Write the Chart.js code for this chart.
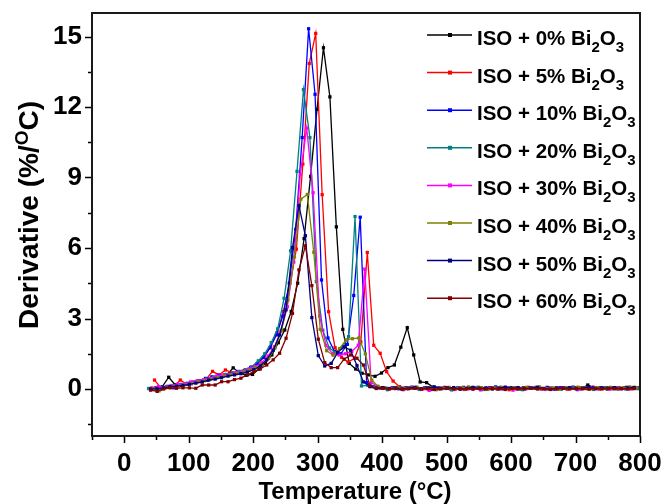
<!DOCTYPE html>
<html lang="en">
<head>
<meta charset="UTF-8">
<title>DTG - ISO + Bi2O3</title>
<script src="https://cdn.jsdelivr.net/npm/chart.js"></script>
<style>
  body { margin: 0; background: #fff; }
  #grafico { display: block; }
</style>
</head>
<body>
<canvas id="grafico" width="666" height="504"></canvas>
<script>
    // percentuais de Bi2O3 de cada amostra
    const percentuais = ['0', '5', '10', '20', '30', '40', '50', '60'];
    const cores = ['#000000', '#ff0000', '#0000ff', '#008080', '#ff00ff', '#808000', '#000080', '#800000'];

    // temperaturas (°C) e derivada (%/°C) de cada amostra
    const temp0 = [39, 49, 59, 69, 79, 89, 99, 109, 119, 129,
        139, 149, 159, 169, 179, 189, 199, 209, 219, 229,
        239, 249, 259, 269, 279, 289, 299, 309, 319, 329,
        339, 349, 359, 369, 379, 389, 399, 409, 419, 429,
        439, 449, 459, 469, 479, 489, 499, 509, 519, 529,
        539, 549, 559, 569, 579, 589, 599, 609, 619, 629,
        639, 649, 659, 669, 679, 689, 699, 709, 719, 729,
        739, 749, 759, 769, 779, 789, 799];
    const deriv0 = [0.02, 0.05, 0.10, 0.50, 0.18, 0.15, 0.22, 0.28, 0.32, 0.38,
        0.45, 0.52, 0.60, 0.90, 0.68, 0.58, 0.62, 0.85, 1.10, 1.45,
        1.97, 2.51, 3.30, 4.50, 6.40, 9.05, 11.9, 14.52, 12.43, 6.90,
        2.54, 1.09, 0.85, 0.67, 0.60, 0.54, 0.68, 0.91, 1.02, 1.78,
        2.61, 1.45, 0.30, 0.27, 0.08, 0.04, 0.06, 0.02, 0.05, 0.00,
        0.04, 0.07, 0.02, 0.05, 0.00, 0.04, 0.06, 0.01, 0.05, 0.03,
        0.07, 0.02, 0.04, 0.00, 0.05, 0.03, 0.06, 0.02, 0.17, 0.04,
        0.06, 0.00, 0.05, 0.03, 0.07, 0.02, 0.05];

    const temp5 = [47, 57, 67, 77, 87, 97, 107, 117, 127, 137,
        147, 157, 167, 177, 187, 197, 207, 217, 227, 237,
        247, 257, 267, 277, 287, 297, 307, 317, 327, 337,
        347, 357, 367, 377, 387, 397, 407, 417, 427, 437,
        447, 457, 467, 477, 487, 497, 507, 517, 527, 537,
        547, 557, 567, 577, 587, 597, 607, 617, 627, 637,
        647, 657, 667, 677, 687, 697, 707, 717, 727, 737,
        747, 757, 767, 777, 787, 797];
    const deriv5 = [0.38, 0.05, 0.08, 0.12, 0.38, 0.20, 0.28, 0.35, 0.42, 0.75,
        0.60, 0.81, 0.70, 0.72, 0.80, 0.90, 1.10, 1.35, 1.80, 2.40,
        3.30, 4.50, 5.95, 9.57, 13.85, 15.13, 8.27, 3.29, 1.76, 1.35,
        1.15, 1.30, 2.00, 5.81, 1.86, 1.52, 0.74, 0.34, 0.10, 0.06,
        0.04, 0.02, 0.06, 0.00, 0.03, 0.07, 0.01, 0.04, -0.02, 0.05,
        0.03, 0.00, 0.06, 0.02, 0.04, -0.03, 0.05, 0.01, 0.07, 0.03,
        0.00, 0.04, 0.02, 0.06, -0.01, 0.03, 0.05, 0.02, 0.08, 0.00,
        0.04, 0.02, 0.06, 0.03, 0.01, 0.05];

    const temp10 = [46, 56, 66, 76, 86, 96, 106, 116, 126, 136,
        146, 156, 166, 176, 186, 196, 206, 216, 226, 236,
        246, 256, 266, 276, 286, 296, 306, 316, 326, 336,
        346, 356, 366, 376, 386, 396, 406, 416, 426, 436,
        446, 456, 466, 476, 486, 496, 506, 516, 526, 536,
        546, 556, 566, 576, 586, 596, 606, 616, 626, 636,
        646, 656, 666, 676, 686, 696, 706, 716, 726, 736,
        746, 756, 766, 776, 786, 796];
    const deriv10 = [0.00, -0.02, 0.10, 0.05, 0.18, 0.22, 0.28, 0.35, 0.45, 0.52,
        0.58, 0.60, 0.65, 0.72, 0.78, 0.92, 1.08, 1.35, 1.75, 2.30,
        3.10, 4.50, 6.80, 10.7, 15.33, 12.54, 4.64, 2.17, 1.60, 1.50,
        1.90, 3.98, 7.31, 0.27, 0.10, 0.05, 0.03, 0.06, 0.01, 0.04,
        0.08, 0.02, 0.05, -0.02, 0.04, 0.06, 0.01, 0.03, 0.07, 0.02,
        0.05, 0.00, 0.04, 0.09, 0.02, 0.05, 0.03, -0.01, 0.06, 0.04,
        0.02, 0.07, 0.00, 0.05, 0.03, 0.08, 0.01, 0.04, 0.06, 0.02,
        0.05, 0.03, 0.00, 0.06, 0.04, 0.02];

    const temp20 = [38, 48, 58, 68, 78, 88, 98, 108, 118, 128,
        138, 148, 158, 168, 178, 188, 198, 208, 218, 228,
        238, 248, 258, 268, 278, 288, 298, 308, 318, 328,
        338, 348, 358, 368, 378, 388, 398, 408, 418, 428,
        438, 448, 458, 468, 478, 488, 498, 508, 518, 528,
        538, 548, 558, 568, 578, 588, 598, 608, 618, 628,
        638, 648, 658, 668, 678, 688, 698, 708, 718, 728,
        738, 748, 758, 768, 778, 788, 798];
    const deriv20 = [0.02, 0.00, 0.08, 0.12, 0.15, 0.20, 0.25, 0.30, 0.35, 0.42,
        0.50, 0.55, 0.62, 0.68, 0.75, 0.82, 0.95, 1.20, 1.50, 1.97,
        2.56, 3.86, 5.88, 9.26, 12.74, 10.7, 4.57, 2.50, 1.75, 1.55,
        1.75, 2.23, 7.34, 0.13, 0.15, 0.08, 0.04, -0.03, 0.02, 0.05,
        0.01, 0.04, -0.02, 0.03, 0.06, 0.00, 0.02, -0.04, 0.05, 0.01,
        0.03, 0.06, -0.02, 0.02, 0.04, 0.00, 0.05, 0.01, -0.03, 0.03,
        0.06, 0.02, 0.00, 0.04, -0.01, 0.03, 0.05, 0.01, 0.02, -0.02,
        0.04, 0.06, 0.01, 0.03, 0.00, 0.05, 0.02];

    const temp30 = [43, 53, 63, 73, 83, 93, 103, 113, 123, 133,
        143, 153, 163, 173, 183, 193, 203, 213, 223, 233,
        243, 253, 263, 273, 283, 293, 303, 313, 323, 333,
        343, 353, 363, 373, 383, 393, 403, 413, 423, 433,
        443, 453, 463, 473, 483, 493, 503, 513, 523, 533,
        543, 553, 563, 573, 583, 593, 603, 613, 623, 633,
        643, 653, 663, 673, 683, 693, 703, 713, 723, 733,
        743, 753, 763, 773, 783, 793];
    const deriv30 = [0.05, 0.10, 0.08, 0.15, 0.20, 0.22, 0.30, 0.35, 0.40, 0.45,
        0.55, 0.60, 0.62, 0.70, 0.75, 0.85, 0.95, 1.12, 1.40, 1.80,
        2.45, 3.50, 5.40, 9.12, 11.1, 8.35, 3.11, 1.86, 1.50, 1.45,
        1.50, 1.60, 1.86, 5.10, 0.27, 0.12, 0.05, 0.02, 0.06, -0.03,
        0.03, 0.05, 0.00, -0.06, 0.04, 0.02, 0.06, -0.02, 0.03, 0.01,
        0.05, -0.04, 0.02, 0.04, 0.00, 0.06, -0.05, 0.03, 0.01, 0.05,
        0.02, -0.02, 0.04, 0.00, 0.06, 0.03, -0.03, 0.02, 0.05, 0.01,
        0.03, -0.01, 0.04, 0.02, 0.00, 0.05];

    const temp40 = [44, 54, 64, 74, 84, 94, 104, 114, 124, 134,
        144, 154, 164, 174, 184, 194, 204, 214, 224, 234,
        244, 254, 264, 274, 284, 294, 304, 314, 324, 334,
        344, 354, 364, 374, 384, 394, 404, 414, 424, 434,
        444, 454, 464, 474, 484, 494, 504, 514, 524, 534,
        544, 554, 564, 574, 584, 594, 604, 614, 624, 634,
        644, 654, 664, 674, 684, 694, 704, 714, 724, 734,
        744, 754, 764, 774, 784, 794];
    const deriv40 = [0.02, -0.08, 0.05, 0.10, 0.12, 0.18, 0.22, 0.30, 0.35, 0.42,
        0.48, 0.55, 0.60, 0.65, 0.72, 0.80, 0.90, 1.05, 1.30, 1.75,
        2.50, 3.79, 5.62, 8.08, 8.28, 5.82, 2.54, 1.63, 1.44, 1.72,
        2.09, 2.14, 2.17, 1.49, 0.38, 0.10, 0.06, 0.03, 0.07, 0.01,
        0.05, 0.08, 0.02, 0.06, -0.03, 0.04, 0.07, 0.01, 0.05, 0.09,
        0.03, 0.06, -0.02, 0.04, 0.08, 0.02, 0.05, 0.01, 0.07, 0.03,
        0.09, 0.02, 0.05, -0.01, 0.06, 0.03, 0.08, 0.04, 0.01, 0.06,
        0.03, 0.07, 0.02, 0.05, 0.09, 0.04];

    const temp50 = [41, 51, 61, 71, 81, 91, 101, 111, 121, 131,
        141, 151, 161, 171, 181, 191, 201, 211, 221, 231,
        241, 251, 261, 271, 281, 291, 301, 311, 321, 331,
        341, 351, 361, 371, 381, 391, 401, 411, 421, 431,
        441, 451, 461, 471, 481, 491, 501, 511, 521, 531,
        541, 551, 561, 571, 581, 591, 601, 611, 621, 631,
        641, 651, 661, 671, 681, 691, 701, 711, 721, 731,
        741, 751, 761, 771, 781, 791];
    const deriv50 = [0.00, 0.02, 0.05, 0.10, 0.12, 0.15, 0.20, 0.25, 0.30, 0.38,
        0.42, 0.48, 0.55, 0.60, 0.65, 0.72, 0.82, 0.98, 1.25, 1.65,
        2.30, 3.37, 6.02, 7.80, 6.52, 3.04, 1.42, 0.98, 1.09, 1.55,
        1.80, 1.65, 1.00, 0.30, 0.10, 0.04, 0.06, 0.02, 0.05, 0.00,
        0.04, 0.07, 0.01, 0.05, 0.09, 0.02, 0.04, 0.06, -0.01, 0.03,
        0.07, 0.02, 0.05, 0.00, 0.04, 0.08, 0.03, 0.06, 0.01, 0.04,
        0.07, 0.02, -0.02, 0.05, 0.03, 0.06, 0.01, 0.04, 0.08, 0.02,
        0.05, 0.03, 0.06, 0.01, 0.04, 0.07];

    const temp60 = [41, 51, 61, 71, 81, 91, 101, 111, 121, 131,
        141, 151, 161, 171, 181, 191, 201, 211, 221, 231,
        241, 251, 261, 271, 281, 291, 301, 311, 321, 331,
        341, 351, 361, 371, 381, 391, 401, 411, 421, 431,
        441, 451, 461, 471, 481, 491, 501, 511, 521, 531,
        541, 551, 561, 571, 581, 591, 601, 611, 621, 631,
        641, 651, 661, 671, 681, 691, 701, 711, 721, 731,
        741, 751, 761, 771, 781, 791];
    const deriv60 = [-0.05, -0.10, 0.00, 0.05, 0.03, 0.05, 0.05, 0.03, 0.17, 0.17,
        0.17, 0.31, 0.31, 0.40, 0.46, 0.60, 0.74, 0.85, 1.02, 1.24,
        1.52, 2.16, 3.22, 5.07, 6.09, 4.40, 2.12, 1.12, 0.91, 0.91,
        1.27, 1.45, 1.31, 1.02, 0.15, 0.02, 0.03, 0.00, 0.02, -0.01,
        0.01, 0.03, 0.00, 0.02, -0.02, 0.01, 0.03, 0.00, 0.02, 0.01,
        -0.01, 0.02, 0.00, 0.03, 0.01, -0.02, 0.02, 0.00, 0.01, 0.03,
        0.00, 0.02, -0.01, 0.01, 0.03, 0.00, 0.02, 0.01, -0.01, 0.02,
        0.00, 0.03, 0.01, 0.02, 0.00, 0.02];

    const temperaturas = [temp0, temp5, temp10, temp20, temp30, temp40, temp50, temp60];
    const derivadas = [deriv0, deriv5, deriv10, deriv20, deriv30, deriv40, deriv50, deriv60];

    // eixos
    const ticksX = [-50, 0, 50, 100, 150, 200, 250, 300, 350, 400, 450, 500, 550, 600, 650, 700, 750, 800];
    const ticksY = [-1.5, 0, 1.5, 3, 4.5, 6, 7.5, 9, 10.5, 12, 13.5, 15];

    const fonte = '"Liberation Sans", Arial, sans-serif';

    function montarPontos(temps, valores) {
        const pontos = [];
        for (let i = 0; i < temps.length && i < valores.length; i++) {
            pontos.push({ x: temps[i], y: valores[i] });
        }
        return pontos;
    }

    const datasets = percentuais.map(function (p, i) {
        return {
            label: 'ISO + ' + p + '% Bi2O3',
            data: montarPontos(temperaturas[i], derivadas[i]),
            borderColor: cores[i],
            backgroundColor: cores[i],
            borderWidth: 1.3,
            pointStyle: 'rect',
            pointRadius: 2.3,
            pointBorderWidth: 0,
            tension: 0,
            order: percentuais.length - i // ultima amostra fica por cima
        };
    });

    // moldura, marcas dos eixos, titulos e legenda com subscrito
    const desenhoExtra = {
        id: 'desenhoExtra',
        afterDraw(chart) {
            const ctx = chart.ctx;
            const a = chart.chartArea;
            const x = chart.scales.x;
            const y = chart.scales.y;
            ctx.save();

            ctx.strokeStyle = '#000';
            ctx.lineWidth = 1.5;
            ctx.beginPath();
            ticksX.forEach(function (v) {
                const px = Math.round(x.getPixelForValue(v)) + 0.5;
                const tam = v % 100 === 0 ? 7 : 4;
                ctx.moveTo(px, a.bottom);
                ctx.lineTo(px, a.bottom + tam);
            });
            ticksY.forEach(function (v) {
                const py = Math.round(y.getPixelForValue(v)) + 0.5;
                const tam = v % 3 === 0 ? 7 : 4;
                ctx.moveTo(a.left, py);
                ctx.lineTo(a.left - tam, py);
            });
            ctx.stroke();

            ctx.strokeStyle = '#1a1a1a';
            ctx.lineWidth = 2;
            ctx.strokeRect(a.left, a.top, a.right - a.left, a.bottom - a.top);

            ctx.fillStyle = '#000';
            ctx.textBaseline = 'alphabetic';

            // titulo do eixo x
            ctx.font = 'bold 24px ' + fonte;
            ctx.textAlign = 'center';
            ctx.fillText('Temperature (°C)', 355, 499);

            // titulo do eixo y com o "O" sobrescrito
            ctx.save();
            ctx.translate(29, 215);
            ctx.rotate(-Math.PI / 2);
            ctx.textAlign = 'left';
            const p1 = 'Derivative (%/';
            const p2 = 'O';
            const p3 = 'C)';
            ctx.font = 'bold 28px ' + fonte;
            const w1 = ctx.measureText(p1).width;
            const w3 = ctx.measureText(p3).width;
            ctx.font = 'bold 19px ' + fonte;
            const w2 = ctx.measureText(p2).width;
            let cx = -(w1 + w2 + w3) / 2;
            ctx.font = 'bold 28px ' + fonte;
            ctx.fillText(p1, cx, 9);
            cx += w1;
            ctx.font = 'bold 19px ' + fonte;
            ctx.fillText(p2, cx, -1);
            cx += w2;
            ctx.font = 'bold 28px ' + fonte;
            ctx.fillText(p3, cx, 9);
            ctx.restore();

            // legenda
            ctx.textAlign = 'left';
            chart.data.datasets.forEach(function (ds, i) {
                const ly = 35 + i * 37.6;
                ctx.strokeStyle = ds.borderColor;
                ctx.lineWidth = 1.5;
                ctx.beginPath();
                ctx.moveTo(427, ly);
                ctx.lineTo(472, ly);
                ctx.stroke();
                ctx.fillStyle = ds.borderColor;
                ctx.fillRect(448, ly - 2, 4, 4);

                ctx.fillStyle = '#000';
                let tx = 477;
                const base = ly + 10;
                ctx.font = 'bold 20.5px ' + fonte;
                const txt = 'ISO + ' + percentuais[i] + '% Bi';
                ctx.fillText(txt, tx, base);
                tx += ctx.measureText(txt).width;
                ctx.font = 'bold 15px ' + fonte;
                ctx.fillText('2', tx, base + 7);
                tx += ctx.measureText('2').width;
                ctx.font = 'bold 20.5px ' + fonte;
                ctx.fillText('O', tx, base);
                tx += ctx.measureText('O').width;
                ctx.font = 'bold 15px ' + fonte;
                ctx.fillText('3', tx, base + 7);
            });

            ctx.restore();
        }
    };

    new Chart(document.getElementById('grafico'), {
        type: 'line',
        data: { datasets: datasets },
        options: {
            responsive: false,
            animation: false,
            layout: { padding: { top: 13, right: 26, left: 0, bottom: 0 } },
            plugins: {
                legend: { display: false },
                tooltip: { enabled: false }
            },
            scales: {
                x: {
                    type: 'linear',
                    min: -50,
                    max: 800,
                    afterBuildTicks: function (scale) {
                        scale.ticks = ticksX.map(function (v) { return { value: v }; });
                    },
                    afterFit: function (scale) {
                        scale.height = 68;
                        scale.paddingLeft = 0;
                        scale.paddingRight = 0;
                    },
                    grid: { display: true, drawOnChartArea: false, color: 'rgba(0,0,0,0)', tickLength: 7 },
                    border: { display: false },
                    ticks: {
                        autoSkip: false,
                        maxRotation: 0,
                        padding: 5,
                        color: '#000',
                        font: { family: fonte, size: 26, weight: 'bold' },
                        callback: function (v) { return (v >= 0 && v % 100 === 0) ? v : ''; }
                    }
                },
                y: {
                    type: 'linear',
                    min: -2,
                    max: 16,
                    afterBuildTicks: function (scale) {
                        scale.ticks = ticksY.map(function (v) { return { value: v }; });
                    },
                    afterFit: function (scale) {
                        scale.width = 92;
                        scale.paddingTop = 0;
                        scale.paddingBottom = 0;
                    },
                    grid: { display: true, drawOnChartArea: false, color: 'rgba(0,0,0,0)', tickLength: 7 },
                    border: { display: false },
                    ticks: {
                        autoSkip: false,
                        padding: 3,
                        color: '#000',
                        font: { family: fonte, size: 26, weight: 'bold' },
                        callback: function (v) { return v % 3 === 0 ? v : ''; }
                    }
                }
            }
        },
        plugins: [desenhoExtra]
    });
</script>
</body>
</html>
